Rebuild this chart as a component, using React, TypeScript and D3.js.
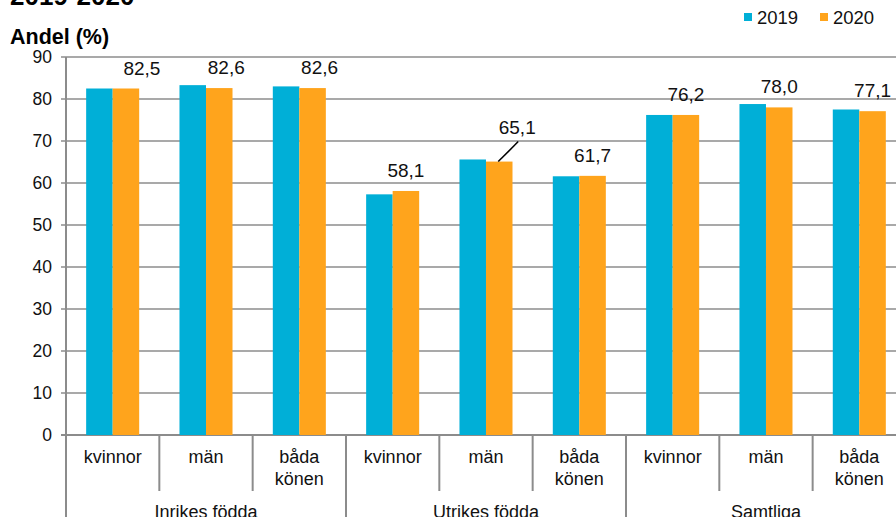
import React, { useEffect } from 'react';
import * as d3 from 'd3';

const groups = ['Inrikes födda', 'Utrikes födda', 'Samtliga'];
const subgroups = ['kvinnor', 'män', 'båda könen'];
const series = ['2019', '2020'];
const values2019 = [82.5, 83.3, 83.0, 57.3, 65.6, 61.6, 76.2, 78.8, 77.5];
const values2020 = [82.5, 82.6, 82.6, 58.1, 65.1, 61.7, 76.2, 78.0, 77.1];
const yTicks = [0, 10, 20, 30, 40, 50, 60, 70, 80, 90];

const colors: Record<string, string> = { '2019': '#00AFD7', '2020': '#FFA41C' };
const font = '"Liberation Sans", Arial, sans-serif';

// manual nudges for the few labels that were moved in the original
const labelNudge: Record<number, { dx: number; dy: number; leader?: boolean }> = {
  0: { dx: 16, dy: 0 },
  1: { dx: 7, dy: 0 },
  2: { dx: 7, dy: 0 },
  4: { dx: 18, dy: -14, leader: true },
};

const W = 896;
const H = 517;
const margin = { top: 57, left: 66, bottom: 82 };

export default function App() {
  useEffect(() => {
    document.body.style.margin = '0';
  }, []);

  const cats = groups.flatMap((g, gi) => subgroups.map((s, si) => `${gi}-${si}`));
  const plotBottom = H - margin.bottom;
  const x = d3.scaleBand().domain(cats).range([margin.left, margin.left + 93.33 * cats.length]);
  const xs = d3.scaleBand().domain(series).range([0, x.bandwidth()]).paddingOuter(0.76);
  const y = d3.scaleLinear().domain([0, 90]).range([plotBottom, margin.top]);
  const right = margin.left + 93.33 * cats.length;
  const grey = '#8C8C8C';

  return (
    <svg width={W} height={H} style={{ display: 'block', background: '#fff' }} fontFamily={font}>
      <text x={10} y={5} fontSize={26} fontWeight="bold" fill="#000">2019-2020</text>
      <text x={10} y={44} fontSize={21.5} fontWeight="bold" fill="#000">Andel (%)</text>

      {/* legend */}
      {series.map((s, i) => (
        <g key={s} transform={`translate(${744 + i * 76},0)`}>
          <rect x={0} y={13} width={8} height={8} fill={colors[s]} />
          <text x={13} y={24} fontSize={18.5} fill="#111">{s}</text>
        </g>
      ))}

      {/* gridlines */}
      {yTicks.map(t => (
        <g key={t}>
          <line x1={margin.left - 5} x2={right} y1={y(t)} y2={y(t)} stroke={grey} strokeWidth={t === 0 ? 2 : 1.5} />
          <text x={52} y={y(t)} dy="0.36em" textAnchor="end" fontSize={17.5} fill="#111">{t}</text>
        </g>
      ))}
      <line x1={margin.left} x2={margin.left} y1={margin.top} y2={H} stroke={grey} strokeWidth={2} />

      {/* bars */}
      {cats.map((c, i) => (
        <g key={c} transform={`translate(${x(c)},0)`}>
          {series.map(s => {
            const v = s === '2019' ? values2019[i] : values2020[i];
            return (
              <rect key={s} x={xs(s)} y={y(v)} width={xs.bandwidth()} height={plotBottom - y(v)} fill={colors[s]} />
            );
          })}
        </g>
      ))}

      {/* data labels (2020 only) */}
      {cats.map((c, i) => {
        const v = values2020[i];
        const bx = (x(c) as number) + (xs('2020') as number) + xs.bandwidth() / 2;
        const by = y(v);
        const n = labelNudge[i] || { dx: 0, dy: 0 };
        const lx = bx + n.dx;
        const ly = by - 14 + n.dy;
        return (
          <g key={c}>
            {n.leader && <line x1={bx - 1} y1={by} x2={lx + 1} y2={ly + 8} stroke="#000" strokeWidth={1.5} />}
            <text x={lx} y={ly} textAnchor="middle" fontSize={19} fill="#111">
              {v.toFixed(1).replace('.', ',')}
            </text>
          </g>
        );
      })}

      {/* category axis */}
      {cats.map((c, i) => {
        const si = i % subgroups.length;
        const cx = (x(c) as number) + x.bandwidth() / 2;
        const words = subgroups[si].split(' ');
        return (
          <g key={c}>
            {i > 0 && (
              <line x1={x(c)} x2={x(c)} y1={plotBottom} y2={si === 0 ? H : plotBottom + 56} stroke={grey} strokeWidth={2} />
            )}
            {words.map((w, wi) => (
              <text key={w} x={cx} y={plotBottom + 28 + wi * 22} textAnchor="middle" fontSize={18} fill="#111">{w}</text>
            ))}
          </g>
        );
      })}
      {groups.map((g, gi) => {
        const x0 = x(`${gi}-0`) as number;
        return (
          <text key={g} x={x0 + (x.bandwidth() * 3) / 2} y={H + 1} textAnchor="middle" fontSize={18} fill="#111">{g}</text>
        );
      })}
    </svg>
  );
}
